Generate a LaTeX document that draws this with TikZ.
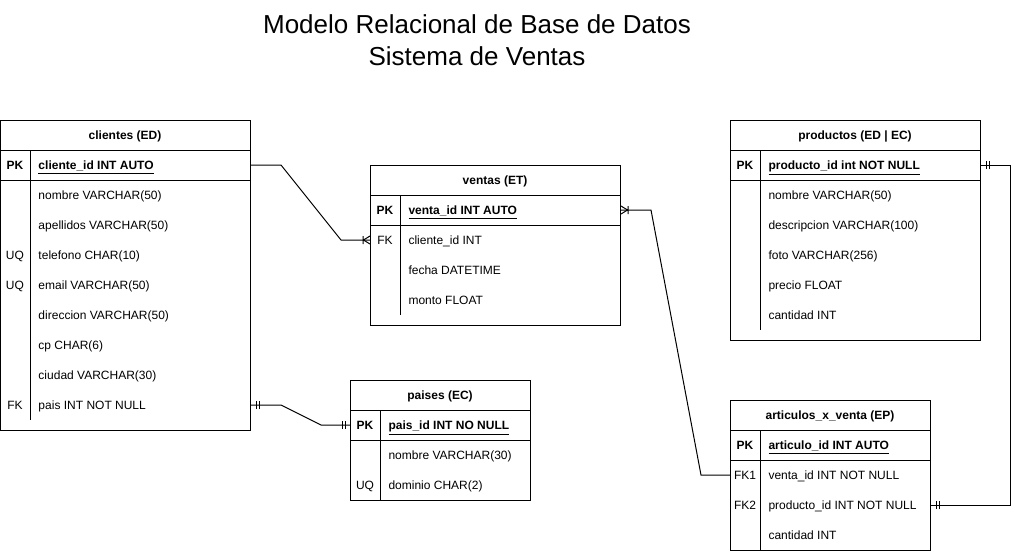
\documentclass[tikz,border=0pt]{standalone}
\usepackage{fontspec}
\setmainfont{Liberation Sans}
\usepackage{tikz}

% relationship ends
\pgfdeclarearrow{
  name = ERone,
  setup code = {
    \pgfarrowssettipend{0pt}
    \pgfarrowssetlineend{0pt}
    \pgfarrowssetbackend{-6.5pt}
    \pgfarrowssetvisualbackend{-6.5pt}
    \pgfarrowshullpoint{0pt}{3pt}
    \pgfarrowshullpoint{0pt}{-3pt}
    \pgfarrowshullpoint{-6.5pt}{3pt}
    \pgfarrowshullpoint{-6.5pt}{-3pt}
  },
  drawing code = {
    \pgfsetdash{}{0pt}
    \pgfpathmoveto{\pgfqpoint{-3.75pt}{3pt}}\pgfpathlineto{\pgfqpoint{-3.75pt}{-3pt}}
    \pgfpathmoveto{\pgfqpoint{-6pt}{3pt}}\pgfpathlineto{\pgfqpoint{-6pt}{-3pt}}
    \pgfusepathqstroke
  }
}
\pgfdeclarearrow{
  name = ERmany,
  setup code = {
    \pgfarrowssettipend{0pt}
    \pgfarrowssetlineend{0pt}
    \pgfarrowssetbackend{-5.5pt}
    \pgfarrowssetvisualbackend{-5.5pt}
    \pgfarrowshullpoint{0pt}{3pt}
    \pgfarrowshullpoint{0pt}{-3pt}
    \pgfarrowshullpoint{-5.5pt}{3pt}
    \pgfarrowshullpoint{-5.5pt}{-3pt}
  },
  drawing code = {
    \pgfsetdash{}{0pt}
    \pgfpathmoveto{\pgfqpoint{0pt}{3pt}}\pgfpathlineto{\pgfqpoint{-4.9pt}{0pt}}\pgfpathlineto{\pgfqpoint{0pt}{-3pt}}
    \pgfpathmoveto{\pgfqpoint{-5.25pt}{3pt}}\pgfpathlineto{\pgfqpoint{-5.25pt}{-3pt}}
    \pgfusepathqstroke
  }
}

\begin{document}
\begin{tikzpicture}[x=0.75pt,y=-0.75pt,line width=0.75pt,
  txt/.style={font=\fontsize{9}{11}\selectfont,inner sep=0pt,text height=7.4pt,text depth=0pt},
  tbl/.style 2 args={draw,anchor=north west,inner sep=0pt,minimum width=#1*0.75pt,minimum height=#2*0.75pt},
  hdr/.style={txt,font=\fontsize{9}{11}\selectfont\bfseries},
  keycol/.style={txt,anchor=center},
  field/.style={txt,anchor=west}]
\useasboundingbox (0,0) rectangle (1020,551);

\node[font=\fontsize{19.5}{24}\selectfont,align=center,inner sep=0pt] (title) at (477,40) {Modelo Relacional de Base de Datos\\Sistema de Ventas};

% clientes
\node[tbl={250}{310}] (clientes) at (0,120) {};
\draw (0,150) -- (250,150);
\draw (0,180) -- (250,180);
\draw (30,150) -- (30,420);
\node[hdr] (cli_h) at (125,135) {clientes (ED)};
\node[hdr,anchor=center] (cli_pk) at (15,165) {PK};
\node[hdr,anchor=west] (cli_id) at (38,165) {\underline{cliente\_id INT AUTO}};
\node[field] (cli_nom) at (38,195) {nombre VARCHAR(50)};
\node[field] (cli_ape) at (38,225) {apellidos VARCHAR(50)};
\node[keycol] (cli_uq1) at (15,255) {UQ};
\node[field] (cli_tel) at (38,255) {telefono CHAR(10)};
\node[keycol] (cli_uq2) at (15,285) {UQ};
\node[field] (cli_mail) at (38,285) {email VARCHAR(50)};
\node[field] (cli_dir) at (38,315) {direccion VARCHAR(50)};
\node[field] (cli_cp) at (38,345) {cp CHAR(6)};
\node[field] (cli_ciu) at (38,375) {ciudad VARCHAR(30)};
\node[keycol] (cli_fk) at (15,405) {FK};
\node[field] (cli_pais) at (38,405) {pais INT NOT NULL};

% ventas
\node[tbl={250}{160}] (ventas) at (370,165) {};
\draw (370,195) -- (620,195);
\draw (370,225) -- (620,225);
\draw (400,195) -- (400,315);
\node[hdr] (ven_h) at (495,180) {ventas (ET)};
\node[hdr,anchor=center] (ven_pk) at (385,210) {PK};
\node[hdr,anchor=west] (ven_id) at (408,210) {\underline{venta\_id INT AUTO}};
\node[keycol] (ven_fk) at (385,240) {FK};
\node[field] (ven_cli) at (408,240) {cliente\_id INT};
\node[field] (ven_fec) at (408,270) {fecha DATETIME};
\node[field] (ven_mon) at (408,300) {monto FLOAT};

% productos
\node[tbl={250}{220}] (productos) at (730,120) {};
\draw (730,150) -- (980,150);
\draw (730,180) -- (980,180);
\draw (760,150) -- (760,330);
\node[hdr] (pro_h) at (855,135) {productos (ED | EC)};
\node[hdr,anchor=center] (pro_pk) at (745,165) {PK};
\node[hdr,anchor=west] (pro_id) at (768,165) {\underline{producto\_id int NOT NULL}};
\node[field] (pro_nom) at (768,195) {nombre VARCHAR(50)};
\node[field] (pro_des) at (768,225) {descripcion VARCHAR(100)};
\node[field] (pro_fot) at (768,255) {foto VARCHAR(256)};
\node[field] (pro_pre) at (768,285) {precio FLOAT};
\node[field] (pro_can) at (768,315) {cantidad INT};

% paises
\node[tbl={180}{120}] (paises) at (350,380) {};
\draw (350,410) -- (530,410);
\draw (350,440) -- (530,440);
\draw (380,410) -- (380,500);
\node[hdr] (pai_h) at (440,395) {paises (EC)};
\node[hdr,anchor=center] (pai_pk) at (365,425) {PK};
\node[hdr,anchor=west] (pai_id) at (388,425) {\underline{pais\_id INT NO NULL}};
\node[field] (pai_nom) at (388,455) {nombre VARCHAR(30)};
\node[keycol] (pai_uq) at (365,485) {UQ};
\node[field] (pai_dom) at (388,485) {dominio CHAR(2)};

% articulos_x_venta
\node[tbl={200}{150}] (articulos) at (730,400) {};
\draw (730,430) -- (930,430);
\draw (730,460) -- (930,460);
\draw (760,430) -- (760,550);
\node[hdr] (art_h) at (830,415) {articulos\_x\_venta (EP)};
\node[hdr,anchor=center] (art_pk) at (745,445) {PK};
\node[hdr,anchor=west] (art_id) at (768,445) {\underline{articulo\_id INT AUTO}};
\node[keycol] (art_fk1) at (745,475) {FK1};
\node[field] (art_ven) at (768,475) {venta\_id INT NOT NULL};
\node[keycol] (art_fk2) at (745,505) {FK2};
\node[field] (art_pro) at (768,505) {producto\_id INT NOT NULL};
\node[field] (art_can) at (768,535) {cantidad INT};

% relaciones
\draw[-{ERmany}] (clientes.east |- cli_id) -- (281,165) -- (341,240) -- (ventas.west |- ven_cli);
\draw[{ERmany}-] (ventas.east |- ven_id) -- (651,210) -- (701,475) -- (articulos.west |- art_ven);
\draw[{ERone}-{ERone}] (clientes.east |- cli_pais) -- (281,405) -- (321,425) -- (paises.west |- pai_id);
\draw[{ERone}-{ERone}] (productos.east |- pro_id) -- (1010,165) -- (1010,505) -- (articulos.east |- art_pro);
\end{tikzpicture}
\end{document}
